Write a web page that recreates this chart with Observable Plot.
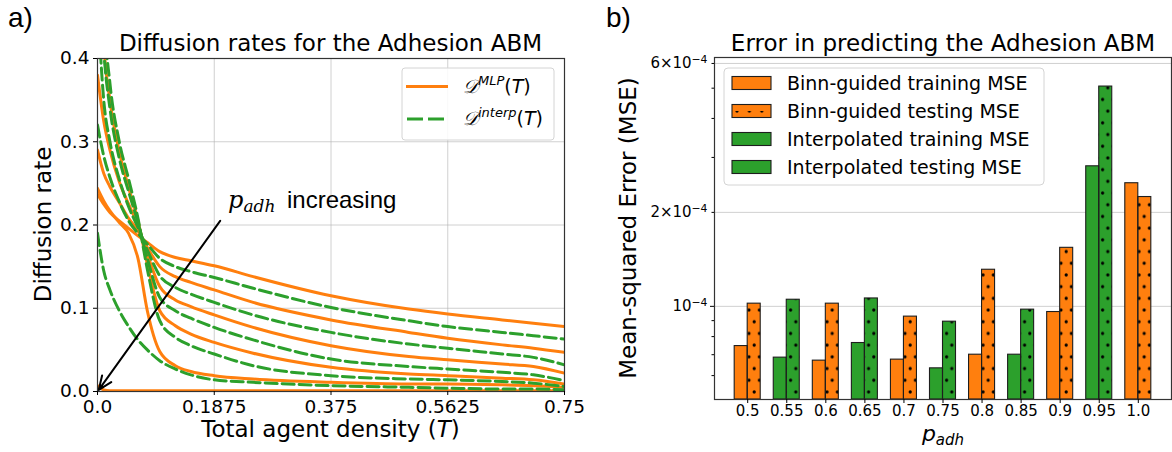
<!DOCTYPE html>
<html>
<head>
<meta charset="utf-8">
<script src="https://cdn.jsdelivr.net/npm/d3@7"></script>
<script src="https://cdn.jsdelivr.net/npm/@observablehq/plot@0.6"></script>
<style>
  html, body { margin: 0; padding: 0; background: #fff; }
  #fig { position: relative; width: 1172px; height: 452px; overflow: hidden; background: #fff; }
  #fig > svg { position: absolute; top: 0; }
</style>
</head>
<body>
<div id="fig"></div>
<script>
const ORANGE = "#ff7f0e";
const GREEN = "#2ca02c";

// ---------- (a) learned vs. interpolated diffusion rates ----------
const densityT = [0, 0.01, 0.02, 0.035, 0.05, 0.065, 0.08, 0.1, 0.125, 0.15, 0.1875, 0.25, 0.375, 0.5, 0.5625, 0.65, 0.7, 0.75];

// MLP diffusion rate D^MLP(T), one array per p_adh
const mlpP050 = [0.237, 0.225, 0.215, 0.205, 0.196, 0.187, 0.179, 0.168, 0.161, 0.157, 0.151, 0.138, 0.115, 0.099, 0.093, 0.086, 0.082, 0.078];
const mlpP060 = [0.290, 0.262, 0.246, 0.227, 0.208, 0.193, 0.173, 0.150, 0.138, 0.131, 0.122, 0.107, 0.086, 0.071, 0.064, 0.056, 0.052, 0.047];
const mlpP070 = [0.380, 0.325, 0.290, 0.252, 0.225, 0.199, 0.165, 0.126, 0.110, 0.102, 0.092, 0.077, 0.055, 0.042, 0.038, 0.033, 0.030, 0.022];
const mlpP080 = [0.620, 0.420, 0.350, 0.288, 0.245, 0.205, 0.153, 0.097, 0.079, 0.069, 0.059, 0.046, 0.029, 0.021, 0.019, 0.016, 0.014, 0.009];
const mlpP090 = [0.244, 0.229, 0.217, 0.203, 0.190, 0.160, 0.097, 0.048, 0.031, 0.024, 0.019, 0.015, 0.011, 0.009, 0.009, 0.008, 0.007, 0.005];
const mlpP100 = [0.007, 0.002, 0.001, 0.001, 0.001, 0.001, 0.001, 0.001, 0.001, 0.001, 0.001, 0.001, 0.001, 0.001, 0.001, 0.001, 0.001, 0.001];

// interpolated diffusion rate D^interp(T)
const interpP055 = [0.320, 0.283, 0.257, 0.228, 0.205, 0.190, 0.177, 0.160, 0.150, 0.144, 0.137, 0.124, 0.101, 0.085, 0.078, 0.071, 0.067, 0.063];
const interpP065 = [0.470, 0.350, 0.300, 0.255, 0.222, 0.197, 0.170, 0.139, 0.125, 0.117, 0.107, 0.092, 0.071, 0.057, 0.052, 0.045, 0.041, 0.032];
const interpP075 = [0.560, 0.410, 0.340, 0.280, 0.240, 0.203, 0.160, 0.113, 0.097, 0.088, 0.077, 0.062, 0.039, 0.030, 0.027, 0.023, 0.020, 0.013];
const interpP085 = [0.700, 0.460, 0.370, 0.300, 0.255, 0.208, 0.147, 0.085, 0.065, 0.055, 0.045, 0.031, 0.019, 0.015, 0.014, 0.012, 0.010, 0.006];
const interpP095 = [0.190, 0.145, 0.122, 0.097, 0.078, 0.062, 0.050, 0.037, 0.027, 0.020, 0.014, 0.011, 0.007, 0.005, 0.004, 0.003, 0.003, 0.002];

const densityTicks = [0, 0.1875, 0.375, 0.5625, 0.75];
const densityTickLabels = ["0.0", "0.1875", "0.375", "0.5625", "0.75"];
const rateTicks = [0, 0.1, 0.2, 0.3, 0.4];
const rateTickLabels = ["0.0", "0.1", "0.2", "0.3", "0.4"];

// arrow "p_adh increasing": from the label down to the origin
const arrowStart = [0.197, 0.205];
const arrowEnd = [0.002, 0.002];

// ---------- (b) prediction error ----------
const pAdhLabels = ["0.5", "0.55", "0.6", "0.65", "0.7", "0.75", "0.8", "0.85", "0.9", "0.95", "1.0"];
const pAdhMethod = ["binn", "interp", "binn", "interp", "binn", "interp", "binn", "interp", "binn", "interp", "binn"];
const trainMSE = [7.46e-5, 6.85e-5, 6.70e-5, 7.63e-5, 6.75e-5, 6.33e-5, 7.00e-5, 7.00e-5, 9.59e-5, 2.81e-4, 2.48e-4];
const testMSE  = [1.02e-4, 1.05e-4, 1.02e-4, 1.06e-4, 9.27e-5, 8.93e-5, 1.31e-4, 9.76e-5, 1.54e-4, 5.06e-4, 2.24e-4];
const mseDomain = [5.03e-5, 6.27e-4];
const mseMajorTicks = [1e-4];
const mseMinorTicks = [6e-5, 7e-5, 8e-5, 9e-5, 2e-4, 3e-4, 4e-4, 5e-4, 6e-4];
const mseGridTicks = [1e-4, 2e-4, 6e-4];
const mseTickText = new Map([[1e-4, "10^−4"], [2e-4, "2×10^−4"], [6e-4, "6×10^−4"]]);

const legendEntries = ["Binn-guided training MSE", "Binn-guided testing MSE", "Interpolated training MSE", "Interpolated testing MSE"];
const legendColors = [ORANGE, ORANGE, GREEN, GREEN];
const legendDotted = [false, true, false, true];

// bar geometry (in category units): each group holds a training and a testing bar
const barWidth = 0.333;
const groupPad = 0.85;

// ---------- build tables ----------
const mlpSeries = [["0.5", mlpP050], ["0.6", mlpP060], ["0.7", mlpP070], ["0.8", mlpP080], ["0.9", mlpP090], ["1.0", mlpP100]];
const interpSeries = [["0.55", interpP055], ["0.65", interpP065], ["0.75", interpP075], ["0.85", interpP085], ["0.95", interpP095]];
const toRows = (series) => series.flatMap(([p, vals]) => vals.map((D, i) => ({p, T: densityT[i], D})));
const mlpRows = toRows(mlpSeries);
const interpRows = toRows(interpSeries);

const methodColor = {binn: ORANGE, interp: GREEN};
const mseRows = pAdhLabels.flatMap((p, i) => [
  {p, split: "train", x1: i - barWidth, x2: i, mse: trainMSE[i], color: methodColor[pAdhMethod[i]]},
  {p, split: "test", x1: i, x2: i + barWidth, mse: testMSE[i], color: methodColor[pAdhMethod[i]]}
]);
const testRows = mseRows.filter(d => d.split === "test");
const groupIndex = pAdhLabels.map((_, i) => i);

const gridStyle = {stroke: "#b0b0b0", strokeOpacity: 0.6, strokeWidth: 1};

// ---------- panel (a) ----------
const left = Plot.plot({
  width: 580, height: 452,
  marginLeft: 97, marginRight: 16, marginTop: 58, marginBottom: 61,
  style: {fontFamily: "DejaVu Sans, sans-serif", fontSize: "18.5px", color: "#000", background: "transparent", overflow: "visible"},
  x: {domain: [0, 0.75]},
  y: {domain: [0, 0.4]},
  marks: [
    Plot.gridX(densityTicks, gridStyle),
    Plot.gridY(rateTicks, gridStyle),
    Plot.line(mlpRows, {x: "T", y: "D", z: "p", stroke: ORANGE, strokeWidth: 3, curve: "monotone-x", clip: true}),
    Plot.line(interpRows, {x: "T", y: "D", z: "p", stroke: GREEN, strokeWidth: 3, strokeDasharray: "12,5", curve: "monotone-x", clip: true}),
    Plot.arrow([{x1: arrowStart[0], y1: arrowStart[1], x2: arrowEnd[0], y2: arrowEnd[1]}],
      {x1: "x1", y1: "y1", x2: "x2", y2: "y2", stroke: "#000", strokeWidth: 2, headLength: 11, headAngle: 45}),
    Plot.frame({stroke: "#333", strokeWidth: 1.2}),
    Plot.axisX(densityTicks, {tickSize: 4, tickPadding: 4, fontSize: 18.5, label: null,
      tickFormat: d => densityTickLabels[densityTicks.indexOf(d)]}),
    Plot.axisY(rateTicks, {tickSize: 4, tickPadding: 4, fontSize: 18.5, label: null,
      tickFormat: d => rateTickLabels[rateTicks.indexOf(d)]})
  ]
});
left.style.left = "0px";

// ---------- panel (b) ----------
const right = Plot.plot({
  width: 592, height: 452,
  marginLeft: 134, marginRight: 1, marginTop: 57, marginBottom: 53,
  style: {fontFamily: "DejaVu Sans, sans-serif", fontSize: "15px", color: "#000", background: "transparent", overflow: "visible"},
  x: {domain: [-groupPad, pAdhLabels.length - 1 + groupPad]},
  y: {type: "log", domain: mseDomain},
  color: {type: "identity"},
  marks: [
    Plot.gridY(mseGridTicks, gridStyle),
    Plot.rectY(mseRows, {x1: "x1", x2: "x2", y1: mseDomain[0], y2: "mse", fill: "color"}),
    Plot.rectY(testRows, {x1: "x1", x2: "x2", y1: mseDomain[0], y2: "mse", fill: "url(#mseDots)"}),
    Plot.rectY(mseRows, {x1: "x1", x2: "x2", y1: mseDomain[0], y2: "mse", fill: "none", stroke: "#1e1e1e", strokeWidth: 1.1}),
    Plot.frame({stroke: "#333", strokeWidth: 1.2}),
    Plot.axisY(mseMajorTicks, {tickSize: 4, tickPadding: 3, fontSize: 15, label: null,
      tickFormat: d => mseTickText.get(d) || ""}),
    Plot.axisY(mseMinorTicks, {tickSize: 2.5, tickPadding: 4.5, fontSize: 15, label: null,
      tickFormat: d => mseTickText.get(d) || ""}),
    Plot.axisX(groupIndex, {tickSize: 4, tickPadding: 2, fontSize: 15, label: null,
      tickFormat: i => pAdhLabels[i]})
  ]
});
right.style.left = "580px";

// dot hatch used on the testing bars
d3.select(right).insert("defs", ":first-child").call(defs => {
  const pat = defs.append("pattern").attr("id", "mseDots").attr("patternUnits", "userSpaceOnUse")
    .attr("width", 10.4).attr("height", 23.4);
  pat.append("circle").attr("cx", 2.6).attr("cy", 5.85).attr("r", 1.6).attr("fill", "#000");
  pat.append("circle").attr("cx", 7.8).attr("cy", 17.55).attr("r", 1.6).attr("fill", "#000");
});

// superscript exponents in the log-axis tick labels
d3.select(right).selectAll("text").each(function () {
  const t = this.textContent;
  if (!t.includes("^")) return;
  const [base, exp] = t.split("^");
  const sel = d3.select(this);
  sel.text(null);
  sel.append("tspan").text(base);
  sel.append("tspan").attr("dy", "-0.5em").attr("font-size", "0.72em").text(exp);
});

const fig = document.getElementById("fig");
fig.append(left, right);

// ---------- titles, axis labels, legends ----------
const ov = d3.create("svg").attr("width", 1172).attr("height", 452)
  .style("left", "0px").style("pointer-events", "none")
  .attr("font-family", "DejaVu Sans, sans-serif").attr("fill", "#000");

const defs = ov.append("defs");
const lp = defs.append("pattern").attr("id", "legendDots").attr("patternUnits", "userSpaceOnUse")
  .attr("width", 12.4).attr("height", 23.4).attr("x", 737).attr("y", 111);
lp.append("circle").attr("cx", 0).attr("cy", 0).attr("r", 1.6).attr("fill", "#000");
lp.append("circle").attr("cx", 12.4).attr("cy", 0).attr("r", 1.6).attr("fill", "#000");

ov.append("text").attr("x", 8).attr("y", 27).attr("font-family", "Liberation Sans, Arial, sans-serif").attr("font-size", 28).text("a)");
ov.append("text").attr("x", 606).attr("y", 27).attr("font-family", "Liberation Sans, Arial, sans-serif").attr("font-size", 28).text("b)");

ov.append("text").attr("x", 330.5).attr("y", 51).attr("text-anchor", "middle").attr("font-size", 23).text("Diffusion rates for the Adhesion ABM");
ov.append("text").attr("x", 943).attr("y", 51).attr("text-anchor", "middle").attr("font-size", 23).text("Error in predicting the Adhesion ABM");

const xl = ov.append("text").attr("x", 330.5).attr("y", 437).attr("text-anchor", "middle").attr("font-size", 23);
xl.append("tspan").text("Total agent density (");
xl.append("tspan").attr("font-style", "italic").text("T");
xl.append("tspan").text(")");

ov.append("text").attr("transform", "translate(51,224.5) rotate(-90)").attr("text-anchor", "middle").attr("font-size", 23).text("Diffusion rate");
ov.append("text").attr("transform", "translate(636,228) rotate(-90)").attr("text-anchor", "middle").attr("font-size", 23).text("Mean-squared Error (MSE)");

const pl = ov.append("text").attr("x", 943).attr("y", 441).attr("text-anchor", "middle").attr("font-style", "italic");
pl.append("tspan").attr("font-size", 22).text("p");
pl.append("tspan").attr("font-size", 15).attr("dy", 4).text("adh");

// annotation label
const an = ov.append("text").attr("x", 228).attr("y", 208).attr("font-family", "DejaVu Serif, serif").attr("font-style", "italic");
an.append("tspan").attr("font-size", 24).text("p");
an.append("tspan").attr("font-size", 17).attr("dy", 4).text("adh");
ov.append("text").attr("x", 287).attr("y", 208).attr("font-family", "Liberation Sans, Arial, sans-serif").attr("font-size", 24).text("increasing");

// legend (a)
ov.append("rect").attr("x", 402).attr("y", 68).attr("width", 152).attr("height", 72).attr("rx", 3)
  .attr("fill", "#fff").attr("fill-opacity", 0.85).attr("stroke", "#d4d4d4");
ov.append("line").attr("x1", 406).attr("x2", 448).attr("y1", 86.5).attr("y2", 86.5).attr("stroke", ORANGE).attr("stroke-width", 3);
ov.append("line").attr("x1", 407).attr("x2", 448).attr("y1", 119).attr("y2", 119).attr("stroke", GREEN).attr("stroke-width", 3).attr("stroke-dasharray", "16,5");
[["MLP", 93], ["interp", 125]].forEach(([sup, y]) => {
  const t = ov.append("text").attr("x", 463).attr("y", y).attr("font-size", 19);
  t.append("tspan").attr("font-style", "italic").text("𝒟");
  t.append("tspan").attr("font-style", "italic").attr("font-size", 13).attr("dy", -8).text(sup);
  t.append("tspan").attr("dy", 8).text("(");
  t.append("tspan").attr("font-style", "italic").text("T");
  t.append("tspan").text(")");
});

// legend (b)
ov.append("rect").attr("x", 724).attr("y", 68).attr("width", 320).attr("height", 117).attr("rx", 4)
  .attr("fill", "#fff").attr("fill-opacity", 0.85).attr("stroke", "#d4d4d4");
legendEntries.forEach((label, k) => {
  const cy = 83 + k * 28;
  ov.append("rect").attr("x", 732).attr("y", cy - 6.5).attr("width", 39).attr("height", 13)
    .attr("fill", legendColors[k]).attr("stroke", "#1e1e1e").attr("stroke-width", 1.1);
  if (legendDotted[k]) {
    ov.append("rect").attr("x", 732).attr("y", cy - 6.5).attr("width", 39).attr("height", 13).attr("fill", "url(#legendDots)");
  }
  ov.append("text").attr("x", 787).attr("y", cy + 7).attr("font-size", 19).text(label);
});

fig.append(ov.node());
</script>
</body>
</html>
